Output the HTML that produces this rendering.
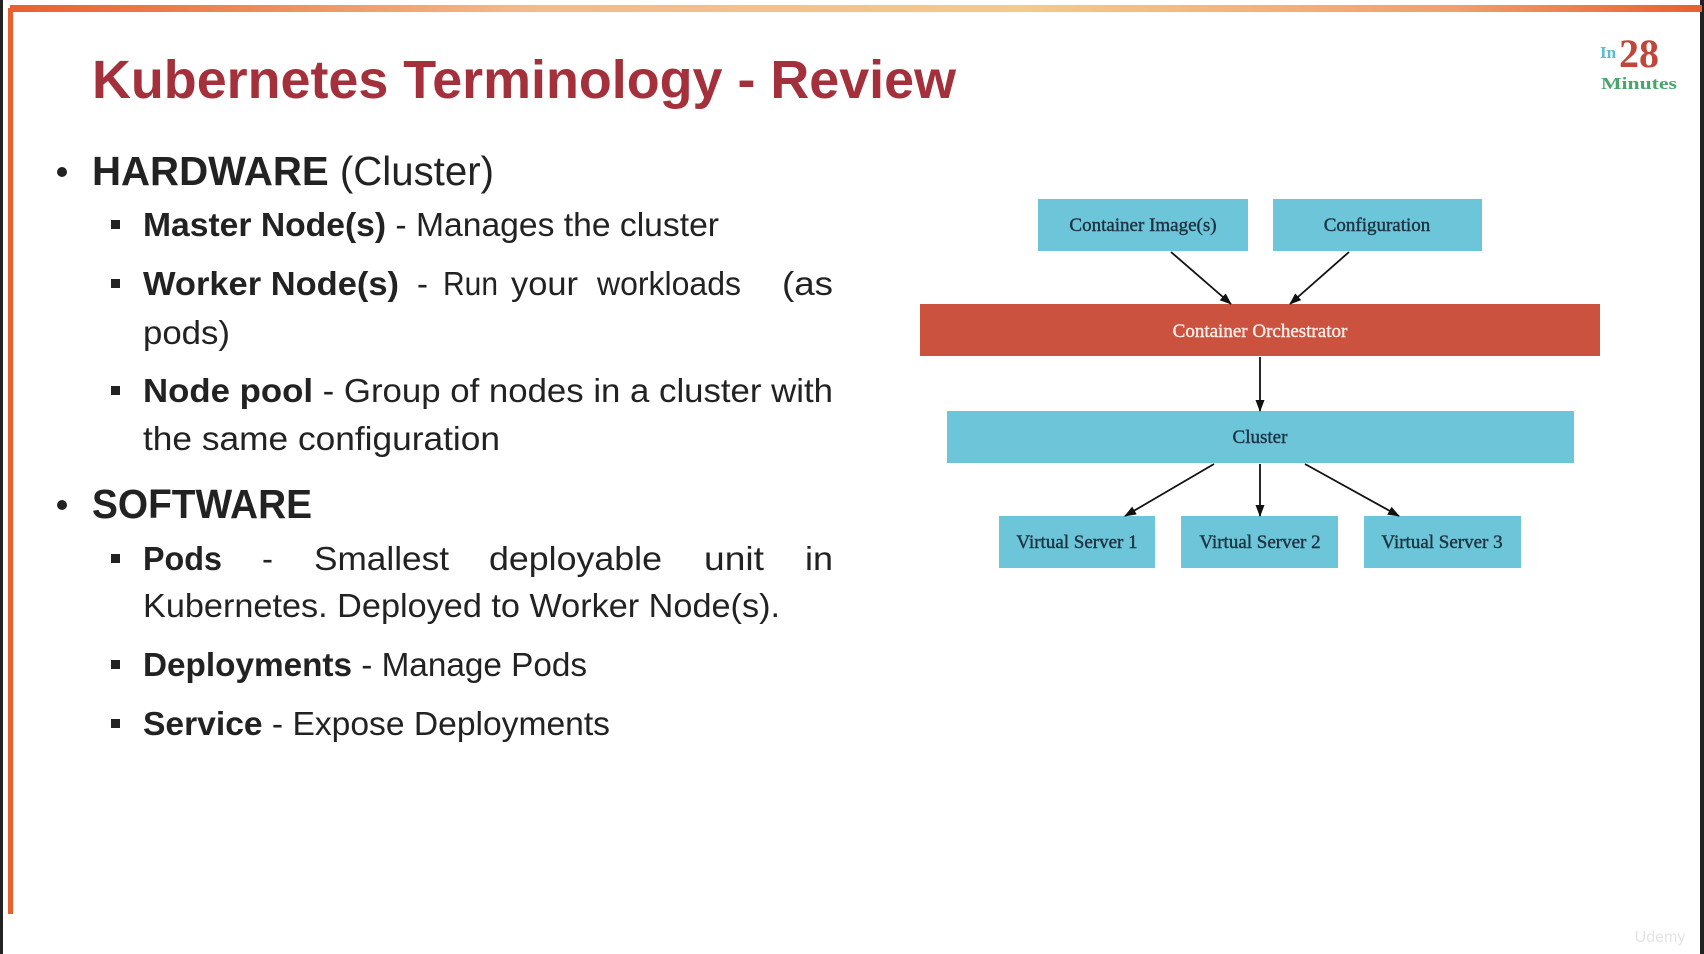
<!DOCTYPE html>
<html><head><meta charset="utf-8"><style>
html,body{margin:0;padding:0;background:#fff;}
svg{display:block}
</style></head><body>
<svg width="1704" height="954" viewBox="0 0 1704 954" xmlns="http://www.w3.org/2000/svg">
<defs>
<linearGradient id="tg" x1="0" x2="1" y1="0" y2="0">
<stop offset="0" stop-color="#e8602e"/>
<stop offset="0.3" stop-color="#f3b98a"/>
<stop offset="0.6" stop-color="#f5c88e"/>
<stop offset="0.85" stop-color="#f0a070"/>
<stop offset="1" stop-color="#e8602e"/>
</linearGradient>
<marker id="ah" markerWidth="12" markerHeight="12" refX="11" refY="6" orient="auto" markerUnits="userSpaceOnUse">
<path d="M0,1.5 L12,6 L0,10.5 z" fill="#111"/>
</marker>
</defs>
<rect x="0" y="0" width="1704" height="954" fill="#fff"/>
<rect x="0" y="0" width="3" height="954" fill="#222"/>
<rect x="1700" y="0" width="4" height="954" fill="#222"/>
<rect x="10" y="5" width="1692" height="7" fill="url(#tg)"/>
<rect x="8" y="8" width="5" height="906" fill="#e8602e"/>

<!-- logo -->
<text x="1600" y="58" font-family="Liberation Serif, serif" font-weight="bold" font-size="17" fill="#5bbcd6">In</text>
<text x="1619" y="67" font-family="Liberation Serif, serif" font-weight="bold" font-size="40" fill="#c0463a">28</text>
<text x="1601" y="89" font-family="Liberation Serif, serif" font-weight="bold" font-size="17" fill="#4aa56a" textLength="76" lengthAdjust="spacingAndGlyphs">Minutes</text>

<!-- title -->
<text x="92" y="98" font-family="Liberation Sans, sans-serif" font-weight="bold" font-size="54" fill="#a3303a" textLength="864" lengthAdjust="spacingAndGlyphs">Kubernetes Terminology - Review</text>

<g font-family="Liberation Sans, sans-serif" fill="#222">
<circle cx="62" cy="172" r="5" fill="#222"/>
<text x="92" y="185" font-size="41" textLength="402" lengthAdjust="spacingAndGlyphs"><tspan font-weight="bold">HARDWARE</tspan> (Cluster)</text>

<rect x="111" y="220" width="9" height="9"/>
<text x="143" y="236" font-size="33" textLength="576" lengthAdjust="spacingAndGlyphs"><tspan font-weight="bold">Master Node(s)</tspan> - Manages the cluster</text>

<rect x="111" y="279" width="9" height="9"/>
<g font-size="33">
<text x="143" y="295" font-weight="bold" textLength="256" lengthAdjust="spacingAndGlyphs">Worker Node(s)</text>
<text x="417" y="295">-</text>
<text x="443" y="295" textLength="55" lengthAdjust="spacingAndGlyphs">Run</text>
<text x="511" y="295" textLength="67" lengthAdjust="spacingAndGlyphs">your</text>
<text x="597" y="295" textLength="144" lengthAdjust="spacingAndGlyphs">workloads</text>
<text x="782" y="295" textLength="51" lengthAdjust="spacingAndGlyphs">(as</text>
</g>
<text x="143" y="344" font-size="33" textLength="87" lengthAdjust="spacingAndGlyphs">pods)</text>

<rect x="111" y="386" width="9" height="9"/>
<text x="143" y="402" font-size="33" textLength="690" lengthAdjust="spacingAndGlyphs"><tspan font-weight="bold">Node pool</tspan> - Group of nodes in a cluster with</text>
<text x="143" y="450" font-size="33" textLength="357" lengthAdjust="spacingAndGlyphs">the same configuration</text>

<circle cx="62" cy="505" r="5" fill="#222"/>
<text x="92" y="518" font-size="41" font-weight="bold" textLength="220" lengthAdjust="spacingAndGlyphs">SOFTWARE</text>

<rect x="111" y="554" width="9" height="9"/>
<g font-size="33">
<text x="143" y="570" font-weight="bold" textLength="79" lengthAdjust="spacingAndGlyphs">Pods</text>
<text x="262" y="570">-</text>
<text x="314" y="570" textLength="135" lengthAdjust="spacingAndGlyphs">Smallest</text>
<text x="489" y="570" textLength="173" lengthAdjust="spacingAndGlyphs">deployable</text>
<text x="704" y="570" textLength="60" lengthAdjust="spacingAndGlyphs">unit</text>
<text x="805" y="570" textLength="28" lengthAdjust="spacingAndGlyphs">in</text>
</g>
<text x="143" y="617" font-size="33" textLength="637" lengthAdjust="spacingAndGlyphs">Kubernetes. Deployed to Worker Node(s).</text>

<rect x="111" y="660" width="9" height="9"/>
<text x="143" y="676" font-size="33" textLength="444" lengthAdjust="spacingAndGlyphs"><tspan font-weight="bold">Deployments</tspan> - Manage Pods</text>

<rect x="111" y="719" width="9" height="9"/>
<text x="143" y="735" font-size="33" textLength="467" lengthAdjust="spacingAndGlyphs"><tspan font-weight="bold">Service</tspan> - Expose Deployments</text>
</g>

<!-- diagram -->
<g font-family="Liberation Serif, serif" font-size="19" text-anchor="middle" stroke-width="0.4">
<rect x="1038" y="199" width="210" height="52" fill="#6cc5d9"/>
<text x="1143" y="231" fill="#1e3340" stroke="#1e3340">Container Image(s)</text>
<rect x="1273" y="199" width="209" height="52" fill="#6cc5d9"/>
<text x="1377" y="231" fill="#1e3340" stroke="#1e3340">Configuration</text>
<rect x="920" y="304" width="680" height="52" fill="#cc5240"/>
<text x="1260" y="337" fill="#fbeee8" stroke="#fbeee8">Container Orchestrator</text>
<rect x="947" y="411" width="627" height="52" fill="#6cc5d9"/>
<text x="1260" y="443" fill="#1e3340" stroke="#1e3340">Cluster</text>
<rect x="999" y="516" width="156" height="52" fill="#6cc5d9"/>
<text x="1077" y="548" fill="#1e3340" stroke="#1e3340">Virtual Server 1</text>
<rect x="1181" y="516" width="157" height="52" fill="#6cc5d9"/>
<text x="1260" y="548" fill="#1e3340" stroke="#1e3340">Virtual Server 2</text>
<rect x="1364" y="516" width="157" height="52" fill="#6cc5d9"/>
<text x="1442" y="548" fill="#1e3340" stroke="#1e3340">Virtual Server 3</text>
</g>
<g stroke="#111" stroke-width="1.8" fill="none" marker-end="url(#ah)">
<line x1="1171" y1="252" x2="1231" y2="304"/>
<line x1="1349" y1="252" x2="1290" y2="304"/>
<line x1="1260" y1="357" x2="1260" y2="411"/>
<line x1="1214" y1="464" x2="1125" y2="516"/>
<line x1="1260" y1="464" x2="1260" y2="516"/>
<line x1="1305" y1="464" x2="1399" y2="516"/>
</g>
<text x="1660" y="942" font-family="Liberation Sans, sans-serif" font-size="16" fill="#e4e4e4" text-anchor="middle">Udemy</text>
</svg>
</body></html>
